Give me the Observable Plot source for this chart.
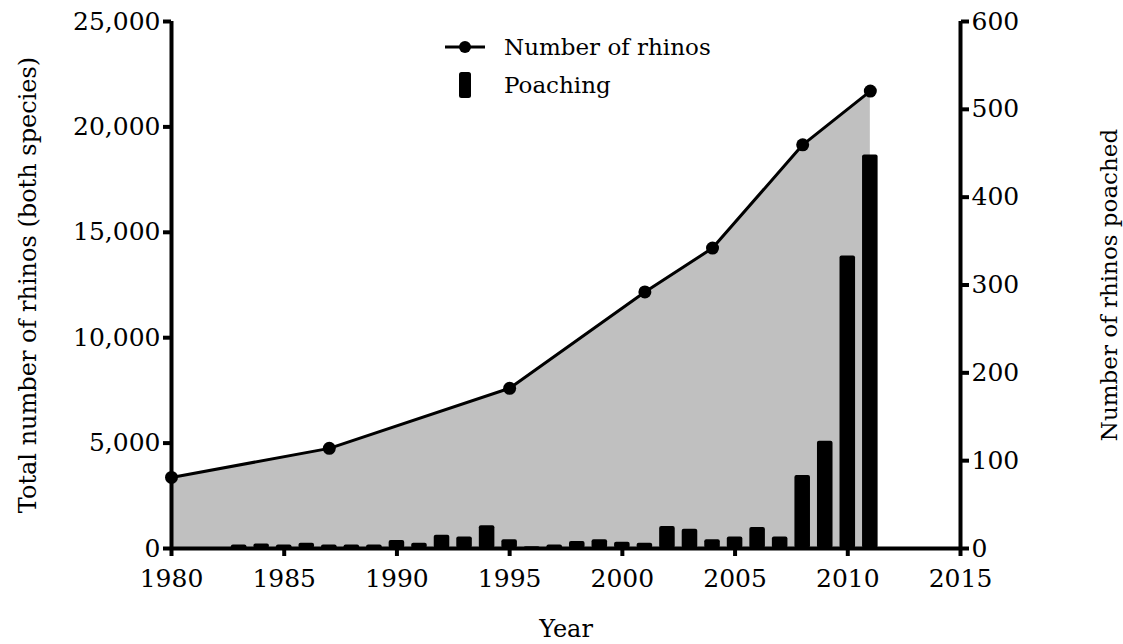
<!DOCTYPE html>
<html>
<head>
<meta charset="utf-8">
<script src="https://cdn.jsdelivr.net/npm/d3@7"></script>
<script src="https://cdn.jsdelivr.net/npm/@observablehq/plot@0.6"></script>
<style>
  html, body { margin: 0; padding: 0; background: #fff; }
  #wrap { position: relative; width: 1123px; height: 644px; }
  #legend { position: absolute; left: 440px; top: 28px; font-family: "DejaVu Serif", serif; font-size: 23px; color: #000; }
  #legend .item { display: flex; align-items: center; height: 38px; }
  #legend svg { width: 50px; height: 30px; margin-right: 14px; }
</style>
</head>
<body>
<div id="wrap">
  <div id="chart"></div>
  <div id="legend">
    <div class="item"><svg viewBox="0 0 50 30"><line x1="5" x2="45" y1="15" y2="15" stroke="#000" stroke-width="3"/><circle cx="25" cy="15" r="6" fill="#000"/></svg>Number of rhinos</div>
    <div class="item"><svg viewBox="0 0 50 30"><rect x="19" y="2" width="12" height="26" rx="2.5" fill="#000"/></svg>Poaching</div>
  </div>
</div>
<script>
// Total number of rhinos (both species)
const rhinoYears = [1980, 1987, 1995, 2001, 2004, 2008, 2011];
const rhinoCounts = [3370, 4750, 7600, 12170, 14250, 19150, 21700];

// Number of rhinos poached
const poachYears = [1983, 1984, 1985, 1986, 1987, 1988, 1989, 1990, 1991, 1992, 1993, 1994, 1995, 1996, 1997,
  1998, 1999, 2000, 2001, 2002, 2003, 2004, 2005, 2006, 2007, 2008, 2009, 2010, 2011];
const poachCounts = [4, 5, 4, 6, 4, 4, 4, 9, 6, 15, 13, 26, 10, 2, 4,
  8, 10, 7, 6, 25, 22, 10, 13, 24, 13, 83, 122, 333, 448];

const xTicks = [1980, 1985, 1990, 1995, 2000, 2005, 2010, 2015];
const leftTicks = [0, 5000, 10000, 15000, 20000, 25000];
const rightTicks = [0, 100, 200, 300, 400, 500, 600];

const leftMax = 25000, rightMax = 600;
const k = leftMax / rightMax;

const rhinos = rhinoYears.map((year, i) => ({year, count: rhinoCounts[i]}));
const poach = poachYears.map((year, i) => ({year, n: poachCounts[i]}));

const fmt = d3.format(",");

const chart = Plot.plot({
  width: 1123,
  height: 644,
  marginLeft: 171,
  marginRight: 163,
  marginTop: 21,
  marginBottom: 96,
  style: {fontFamily: "DejaVu Serif, serif", fontSize: "24px", color: "#000", background: "#fff"},
  x: {domain: [1980, 2015]},
  y: {domain: [0, leftMax]},
  marks: [
    Plot.areaY(rhinos, {x: "year", y: "count", fill: "#c0c0c0"}),
    Plot.rectY(poach, {x1: d => d.year - 0.345, x2: d => d.year + 0.345, y1: 0, y2: d => d.n * k, fill: "#000", rx: 2}),
    Plot.line(rhinos, {x: "year", y: "count", stroke: "#000", strokeWidth: 3}),
    Plot.dot(rhinos, {x: "year", y: "count", r: 6.5, fill: "#000"}),
    // tick axes
    Plot.axisX({ticks: xTicks, tickFormat: d => String(d), tickSize: 8, strokeWidth: 4, tickPadding: 13, fontSize: 25, label: null}),
    Plot.axisY({anchor: "left", ticks: leftTicks, tickFormat: fmt, tickSize: 8, strokeWidth: 4, tickPadding: 3, fontSize: 25, label: null}),
    Plot.axisY({anchor: "right", ticks: rightTicks.map(d => d * k), tickFormat: d => String(Math.round(d / k)), tickSize: 8, strokeWidth: 4, tickPadding: 3, fontSize: 25, label: null}),
    // axis titles
    Plot.axisX({ticks: [], label: "Year", labelAnchor: "center", labelArrow: "none", labelOffset: 88, fontSize: 24}),
    Plot.axisY({anchor: "left", ticks: [], label: "Total number of rhinos (both species)", labelAnchor: "center", labelArrow: "none", labelOffset: 153, fontSize: 24}),
    Plot.axisY({anchor: "right", ticks: [], label: "Number of rhinos poached", labelAnchor: "center", labelArrow: "none", labelOffset: 156, fontSize: 23}),
    // axis lines
    Plot.ruleY([0], {stroke: "#000", strokeWidth: 4}),
    Plot.ruleX([1980], {stroke: "#000", strokeWidth: 4}),
    Plot.ruleX([2015], {stroke: "#000", strokeWidth: 4})
  ]
});
document.getElementById("chart").appendChild(chart);
</script>
</body>
</html>
